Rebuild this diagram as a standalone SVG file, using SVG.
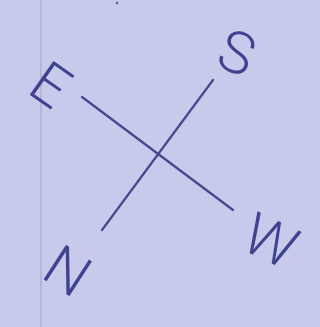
<svg xmlns="http://www.w3.org/2000/svg" width="320" height="327" viewBox="0 0 320 327">
<style>
.lbl{font-family:Roboto,"DejaVu Sans",sans-serif;font-weight:300;font-size:58px;fill:#3f4290;text-anchor:middle}
.ln{stroke:#45478f;stroke-width:2.2;stroke-linecap:round;fill:none}
</style>
<rect x="0" y="0" width="320" height="327" fill="#c8caec"/>
<line x1="41" y1="0" x2="41" y2="327" stroke="#b4b6d8" stroke-width="2"/>
<circle cx="117" cy="3" r="1.3" fill="#5a5c95"/>
<g id="connectors">
<line class="ln" x1="82" y1="97" x2="233" y2="210"/>
<line class="ln" x1="213" y1="80" x2="102" y2="230"/>
</g>
<g id="E" transform="translate(51,84) rotate(35)"><text class="lbl" x="0" y="21">E</text></g>
<g id="S" transform="translate(237,52) rotate(20)"><text class="lbl" x="0" y="21">S</text></g>
<g id="W" transform="translate(271,240) rotate(25)"><text class="lbl" x="0" y="21">W</text></g>
<g id="N" transform="translate(68,270) rotate(33)"><text class="lbl" x="0" y="21">N</text></g>
</svg>
